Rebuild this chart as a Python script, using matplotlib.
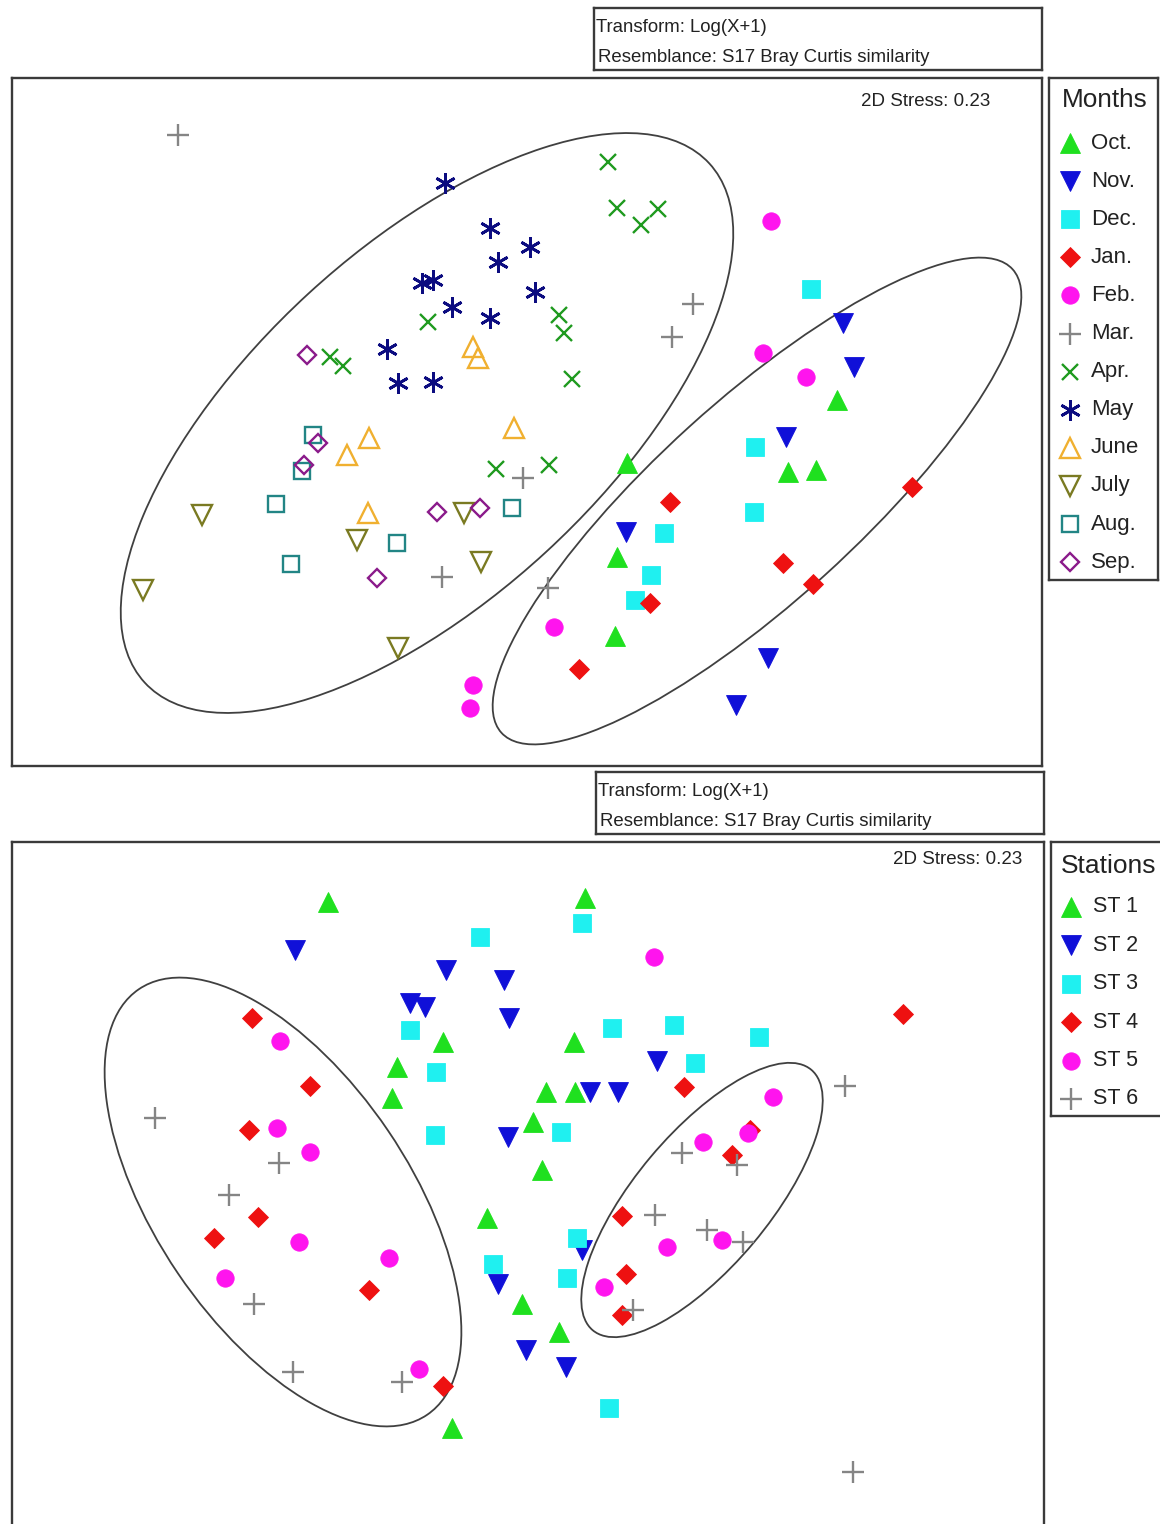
import matplotlib
matplotlib.use('Agg')
import matplotlib.pyplot as plt
from matplotlib.patches import Ellipse

plt.rcParams['font.family'] = ['Liberation Sans', 'DejaVu Sans']

W, H = 1160, 1524

# ---- NMDS by month (scores, image pixel units) ----
oct_x = [627, 788, 816, 837, 617, 615]
oct_y = [463, 472, 470, 400, 557, 636]
nov_x = [843, 854, 786, 626, 768, 736]
nov_y = [323, 367, 437, 532, 658, 705]
dec_x = [811, 755, 754, 664, 651, 635]
dec_y = [289, 447, 512, 533, 575, 600]
jan_x = [670, 912, 783, 813, 650, 579]
jan_y = [502, 487, 563, 584, 603, 669]
feb_x = [771, 763, 806, 554, 473, 470]
feb_y = [221, 353, 377, 627, 685, 708]
mar_x = [178, 693, 672, 523, 442, 548]
mar_y = [135, 304, 337, 478, 577, 588]
apr_x = [608, 617, 641, 658, 428, 330, 343, 559, 564, 572, 496, 549]
apr_y = [162, 208, 225, 209, 322, 357, 366, 315, 333, 379, 469, 465]
may_x = [445, 490, 530, 498, 422, 433, 535, 452, 490, 387, 398, 433]
may_y = [183, 228, 247, 262, 283, 280, 292, 307, 318, 349, 383, 382]
jun_x = [473, 478, 369, 347, 514, 368]
jun_y = [347, 358, 438, 455, 428, 513]
jul_x = [202, 143, 357, 464, 481, 398]
jul_y = [515, 590, 540, 513, 562, 648]
aug_x = [313, 302, 276, 291, 397, 512]
aug_y = [435, 471, 504, 564, 543, 508]
sep_x = [307, 318, 304, 437, 480, 377]
sep_y = [355, 443, 465, 512, 508, 578]

month_labels = ['Oct.', 'Nov.', 'Dec.', 'Jan.', 'Feb.', 'Mar.',
                'Apr.', 'May', 'June', 'July', 'Aug.', 'Sep.']

# ---- NMDS by station ----
st1_x = [328, 585, 443, 397, 392, 574, 546, 575, 533, 542, 487, 522, 559, 452]
st1_y = [902, 898, 1042, 1067, 1098, 1042, 1092, 1092, 1122, 1170, 1218, 1304, 1332, 1428]
st2_x = [295, 446, 504, 410, 425, 509, 657, 590, 618, 508, 582, 498, 526, 566]
st2_y = [950, 970, 980, 1003, 1007, 1018, 1061, 1092, 1092, 1137, 1250, 1284, 1350, 1367]
st3_x = [480, 582, 410, 436, 612, 674, 759, 695, 435, 561, 577, 493, 567, 609]
st3_y = [937, 923, 1030, 1072, 1028, 1025, 1037, 1063, 1135, 1132, 1238, 1264, 1278, 1408]
st4_x = [252, 310, 249, 903, 684, 750, 732, 258, 214, 369, 443, 622, 626, 622]
st4_y = [1018, 1086, 1130, 1014, 1087, 1130, 1155, 1217, 1238, 1290, 1386, 1216, 1274, 1315]
st5_x = [280, 277, 310, 654, 773, 703, 748, 299, 225, 389, 419, 667, 722, 604]
st5_y = [1041, 1128, 1152, 957, 1097, 1142, 1133, 1242, 1278, 1258, 1369, 1247, 1240, 1287]
st6_x = [155, 279, 229, 845, 682, 737, 254, 293, 402, 655, 707, 743, 633, 853]
st6_y = [1118, 1163, 1195, 1086, 1153, 1165, 1304, 1372, 1382, 1215, 1230, 1242, 1310, 1472]

station_labels = ['ST 1', 'ST 2', 'ST 3', 'ST 4', 'ST 5', 'ST 6']

# similarity groups (centre x, centre y, width, height, angle)
top_groups = [(427, 423, 767, 351, -42.6), (757, 501, 690, 201, -42.2)]
bot_groups = [(283, 1202, 514, 254, 55.9), (702, 1200, 340, 134, -50.0)]

stress = '2D Stress: 0.23'
header = ['Transform: Log(X+1)', 'Resemblance: S17 Bray Curtis similarity']

# marker styles: (marker, colour, filled, size)
asterisk = (6, 2, 0)
styles = [
    ('^', '#1fe01f', True, 15), ('v', '#1010d8', True, 15),
    ('s', '#1ff0f0', True, 13), ('D', '#ee1111', True, 10.5),
    ('o', '#ff14ee', True, 12.5), ('+', '#858585', False, 16),
    ('x', '#1f9a1f', False, 12), (asterisk, '#0c0c80', False, 15),
    ('^', '#f0b030', False, 14), ('v', '#7a7a22', False, 14),
    ('s', '#228585', False, 12), ('D', '#8a1a8a', False, 9.5),
]

FRAME = '#3a3a3a'


def px_axes(x0, y0, x1, y1):
    ax = fig.add_axes([x0 / W, 1 - y1 / H, (x1 - x0) / W, (y1 - y0) / H])
    ax.set_xlim(x0, x1)
    ax.set_ylim(y1, y0)
    ax.set_xticks([])
    ax.set_yticks([])
    for s in ax.spines.values():
        s.set_linewidth(1.7)
        s.set_color(FRAME)
    return ax


def draw(ax, x, y, st):
    m, c, filled, ms = st
    if filled:
        ax.plot(x, y, ls='none', marker=m, ms=ms, mfc=c, mec=c, mew=0.6)
    else:
        lw = 2.0 if m == asterisk else 1.7
        ax.plot(x, y, ls='none', marker=m, ms=ms, mfc='none', mec=c, mew=lw)


fig = plt.figure(figsize=(W / 100, H / 100), dpi=100)

# ---------- top panel ----------
hd = px_axes(594, 8, 1042, 70)
hd.text(596, 28, header[0], fontsize=13.4, va='center', ha='left', color='#222222')
hd.text(598, 57, header[1], fontsize=13.4, va='center', ha='left', color='#222222')

ax = px_axes(12, 78, 1042, 766)
top_x = [oct_x, nov_x, dec_x, jan_x, feb_x, mar_x, apr_x, may_x, jun_x, jul_x, aug_x, sep_x]
top_y = [oct_y, nov_y, dec_y, jan_y, feb_y, mar_y, apr_y, may_y, jun_y, jul_y, aug_y, sep_y]
for cx, cy, w, h, a in top_groups:
    ax.add_patch(Ellipse((cx, cy), w, h, angle=a, fill=False, ec='#404040', lw=1.3))
for x, y, st in zip(top_x, top_y, styles):
    draw(ax, x, y, st)
ax.text(990, 102, stress, fontsize=13.5, ha='right', va='center', color='#222222')

lg = px_axes(1049, 78, 1158, 580)
lg.text(1105, 100, 'Months', fontsize=18.8, ha='center', va='center', color='#222222')
for i, (lab, st) in enumerate(zip(month_labels, styles)):
    yy = 143 + i * 38.1
    draw(lg, [1070], [yy], st)
    lg.text(1091, yy, lab, fontsize=16, ha='left', va='center', color='#222222')

# ---------- bottom panel ----------
hd2 = px_axes(596, 772, 1044, 834)
hd2.text(598, 792, header[0], fontsize=13.4, va='center', ha='left', color='#222222')
hd2.text(600, 821, header[1], fontsize=13.4, va='center', ha='left', color='#222222')

bx = px_axes(12, 842, 1044, 1530)
bot_x = [st1_x, st2_x, st3_x, st4_x, st5_x, st6_x]
bot_y = [st1_y, st2_y, st3_y, st4_y, st5_y, st6_y]
for cx, cy, w, h, a in bot_groups:
    bx.add_patch(Ellipse((cx, cy), w, h, angle=a, fill=False, ec='#404040', lw=1.3))
for x, y, st in zip(bot_x, bot_y, styles[:6]):
    draw(bx, x, y, st)
bx.text(1022, 860, stress, fontsize=13.5, ha='right', va='center', color='#222222')

lg2 = px_axes(1051, 842, 1175, 1116)
lg2.text(1061, 866, 'Stations', fontsize=19, ha='left', va='center', color='#222222')
for i, (lab, st) in enumerate(zip(station_labels, styles[:6])):
    yy = 907 + i * 38.4
    draw(lg2, [1071], [yy], st)
    lg2.text(1093, yy, lab, fontsize=15.5, ha='left', va='center', color='#222222')

fig.savefig('out.png', dpi=100)
